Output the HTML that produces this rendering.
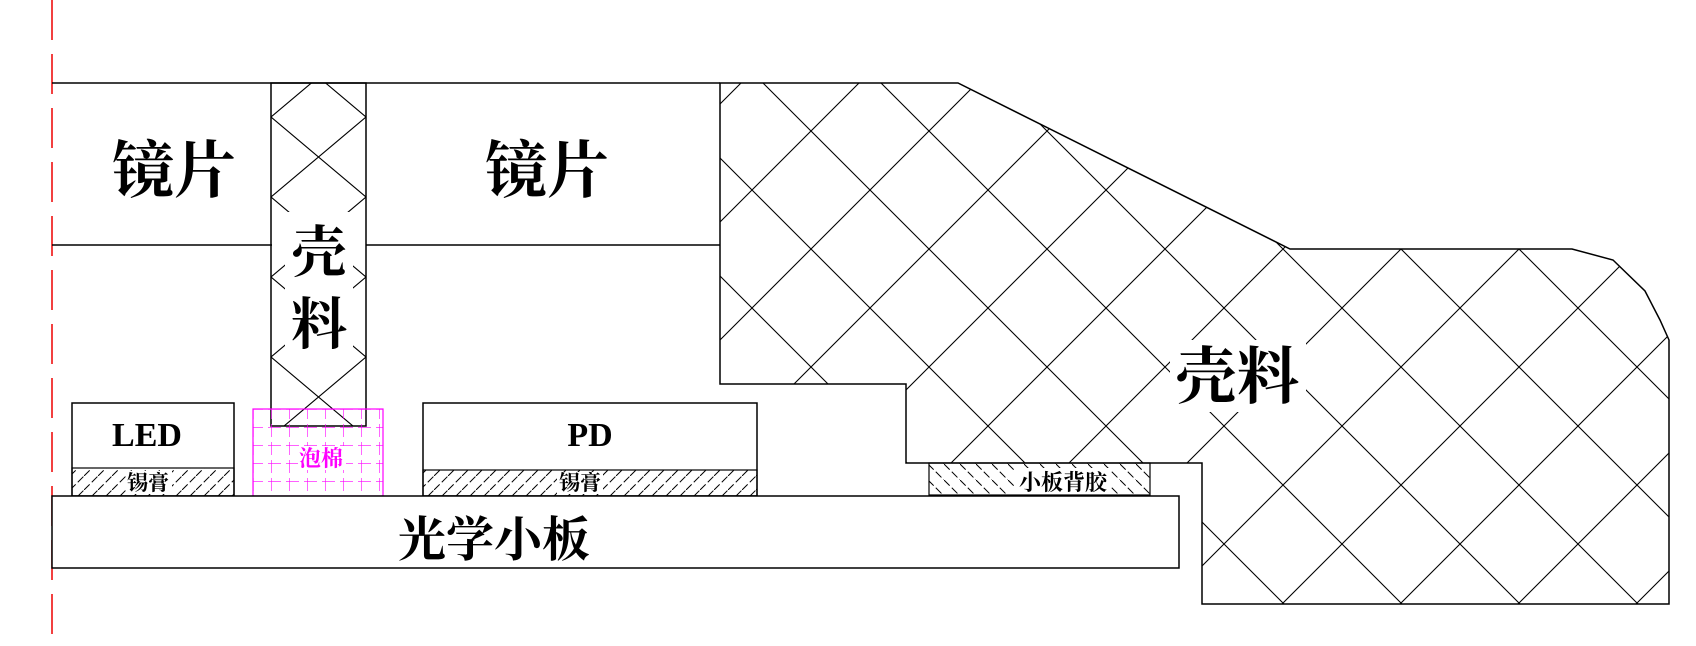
<!DOCTYPE html>
<html><head><meta charset="utf-8"><style>
html,body{margin:0;padding:0;background:#fff;}
svg{display:block;}
text{font-family:"Liberation Serif","Noto Serif CJK SC",serif;fill:#000;}
</style></head><body>
<svg width="1696" height="646" viewBox="0 0 1696 646" xmlns="http://www.w3.org/2000/svg">
<defs>
<pattern id="big" patternUnits="userSpaceOnUse" x="1283" y="249" width="118" height="118">
<path d="M0,0 L118,118 M118,0 L0,118" stroke="#000" stroke-width="1.1" fill="none"/>
</pattern>
<pattern id="pil" patternUnits="userSpaceOnUse" x="271" y="117" width="95" height="80">
<path d="M0,0 L95,80 M95,0 L0,80" stroke="#000" stroke-width="1.1" fill="none"/>
</pattern>
<pattern id="sol" patternUnits="userSpaceOnUse" width="14" height="14">
<path d="M0,14 L14,0" stroke="#000" stroke-width="1" stroke-dasharray="8,3" fill="none"/>
</pattern>
<pattern id="glue" patternUnits="userSpaceOnUse" width="16" height="16">
<path d="M0,0 L16,16" stroke="#000" stroke-width="1" stroke-dasharray="8,3" fill="none"/>
</pattern>
<pattern id="foam" patternUnits="userSpaceOnUse" x="253" y="409" width="18" height="18">
<path d="M0,0 L18,0 M0,0 L0,18" stroke="#f0f" stroke-width="1.2" stroke-dasharray="10,5" fill="none"/>
</pattern>
</defs>

<line x1="52" y1="0" x2="52" y2="646" stroke="#e00" stroke-width="1.5" stroke-dasharray="40,14"/>

<line x1="52" y1="83" x2="720" y2="83" stroke="#000" stroke-width="1.5"/>
<line x1="52" y1="245" x2="272" y2="245" stroke="#000" stroke-width="1.5"/>
<line x1="366" y1="245" x2="720" y2="245" stroke="#000" stroke-width="1.5"/>

<path d="M720,83 L958,83 L1290,249 L1572,249 L1613,260 L1645,291 L1660,320 L1669,340 L1669,604 L1202,604 L1202,463 L906,463 L906,384 L720,384 Z" fill="url(#big)" stroke="#000" stroke-width="1.5"/>
<rect x="1170" y="340" width="136" height="72" fill="#fff"/>
<text x="1237" y="398" font-size="62" font-weight="bold" text-anchor="middle">壳料</text>

<rect x="271" y="83" width="95" height="343" fill="url(#pil)" stroke="#000" stroke-width="1.5"/>
<rect x="285" y="212" width="68" height="150" fill="#fff"/>
<text x="319" y="272" font-size="56" font-weight="bold" text-anchor="middle">壳</text>
<text x="319" y="344" font-size="56" font-weight="bold" text-anchor="middle">料</text>

<text x="174" y="192" font-size="62" font-weight="bold" text-anchor="middle">镜片</text>
<text x="547" y="192" font-size="62" font-weight="bold" text-anchor="middle">镜片</text>

<rect x="72" y="403" width="162" height="93" fill="#fff" stroke="#000" stroke-width="1.5"/>
<rect x="72" y="468" width="162" height="28" fill="url(#sol)" stroke="#000" stroke-width="1.2"/>
<text x="147" y="446" font-size="34" font-weight="bold" text-anchor="middle">LED</text>
<rect x="126" y="471" width="46" height="23" fill="#fff"/>
<text x="148" y="490" font-size="21" font-weight="bold" text-anchor="middle">锡膏</text>

<rect x="253" y="409" width="130" height="87" fill="url(#foam)" stroke="#f0f" stroke-width="1.2"/>
<rect x="298" y="446" width="48" height="24" fill="#fff"/>
<text x="321" y="466" font-size="22" font-weight="bold" fill="#f0f" style="fill:#f0f" text-anchor="middle">泡棉</text>

<rect x="423" y="403" width="334" height="93" fill="#fff" stroke="#000" stroke-width="1.5"/>
<rect x="423" y="470" width="334" height="26" fill="url(#sol)" stroke="#000" stroke-width="1.2"/>
<text x="590" y="446" font-size="34" font-weight="bold" text-anchor="middle">PD</text>
<rect x="557" y="472" width="46" height="22" fill="#fff"/>
<text x="580" y="490" font-size="21" font-weight="bold" text-anchor="middle">锡膏</text>

<rect x="929" y="463" width="221" height="32" fill="url(#glue)" stroke="#000" stroke-width="1.2"/>
<rect x="1015" y="468" width="96" height="26" fill="#fff"/>
<text x="1063" y="490" font-size="22" font-weight="bold" text-anchor="middle">小板背胶</text>

<rect x="52" y="496" width="1127" height="72" fill="#fff" stroke="#000" stroke-width="1.5"/>
<text x="494" y="556" font-size="48" font-weight="bold" text-anchor="middle">光学小板</text>
</svg>
</body></html>
